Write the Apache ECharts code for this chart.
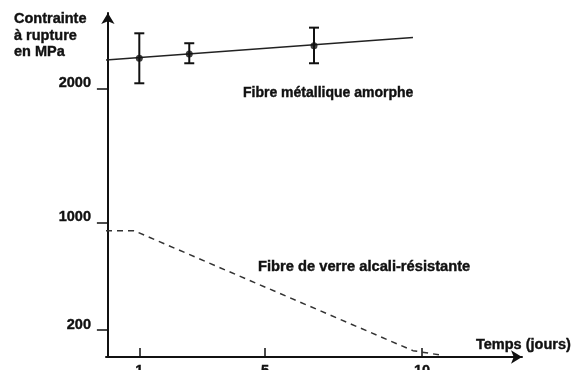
<!DOCTYPE html>
<html><head><meta charset="utf-8">
<script src="https://cdn.jsdelivr.net/npm/echarts@6/dist/echarts.min.js"></script>
<style>html,body{margin:0;padding:0;background:#fff}#c{width:574px;height:370px}</style>
</head><body><div id="c"></div>
<script>
// Data (time in days, strength in MPa)
const metalLineX = [-0.06, 9.71];
const metalLineY = [2211, 2377];
const metalPointX = [1, 2.59, 6.56];
const metalPointY = [2223, 2255, 2317];
const metalErrLow = [2037, 2186, 2186];
const metalErrHigh = [2409, 2335, 2451];
const glassX = [-0.06, 0.83, 9.71, 10.57];
const glassY = [940, 940, 47, 15];
const xTicks = [1, 5, 10];
const yTicks = [200, 1000, 2000];
const yAxisName = 'Contrainte\nà rupture\nen MPa';
const xAxisName = 'Temps (jours)';
const metalName = 'Fibre métallique amorphe';
const glassName = 'Fibre de verre alcali-résistante';

const FONT = '"Liberation Sans", Arial, sans-serif';
const INK = '#111';
const heavyLabel = {textBorderColor: INK, textBorderWidth: 0.4};
const heavyText = {stroke: INK, lineWidth: 0.4};

const chart = echarts.init(document.getElementById('c'), null, {renderer: 'canvas'});
const option = {
  animation: false,
  backgroundColor: '#fff',
  grid: {left: 106, right: 52, top: 13, bottom: 13, containLabel: false, outerBoundsMode: 'none'},
  xAxis: {
    type: 'value', min: -0.06, max: 13.18,
    splitLine: {show: false},
    axisLine: {show: true, lineStyle: {color: INK, width: 2}, symbol: ['none', 'arrow'], symbolSize: [10, 11]},
    axisTick: {show: true, inside: true, length: 9, customValues: xTicks, lineStyle: {color: INK, width: 1.5}},
    axisLabel: Object.assign({show: true, customValues: xTicks, margin: 6, color: INK, fontFamily: FONT, fontWeight: 'bold', fontSize: 14.5,
      formatter: v => String(v)}, heavyLabel)
  },
  yAxis: {
    type: 'value', min: 0, max: 2560,
    splitLine: {show: false},
    axisLine: {show: true, lineStyle: {color: INK, width: 2}, symbol: ['none', 'arrow'], symbolSize: [10, 11]},
    axisTick: {show: true, inside: false, length: 11, customValues: yTicks, lineStyle: {color: INK, width: 1.5}},
    axisLabel: Object.assign({show: true, customValues: yTicks, margin: 15, color: INK, fontFamily: FONT, fontWeight: 'bold', fontSize: 14.5,
      verticalAlign: 'bottom', lineHeight: 11, formatter: v => String(v)}, heavyLabel)
  },
  series: [
    {
      type: 'line', name: metalName,
      data: metalLineX.map((x, i) => [x, metalLineY[i]]),
      showSymbol: false, symbol: 'none',
      lineStyle: {color: '#222', width: 1.5}
    },
    {
      type: 'custom', name: 'errors',
      data: metalPointX.map((x, i) => [x, metalErrLow[i], metalErrHigh[i]]),
      renderItem: function (params, api) {
        const x = api.value(0);
        const lo = api.coord([x, api.value(1)]);
        const hi = api.coord([x, api.value(2)]);
        const w = 5;
        const st = {stroke: INK, lineWidth: 2};
        return {type: 'group', children: [
          {type: 'line', shape: {x1: lo[0], y1: lo[1], x2: hi[0], y2: hi[1]}, style: st},
          {type: 'line', shape: {x1: lo[0] - w, y1: lo[1], x2: lo[0] + w, y2: lo[1]}, style: st},
          {type: 'line', shape: {x1: hi[0] - w, y1: hi[1], x2: hi[0] + w, y2: hi[1]}, style: st}
        ]};
      },
      z: 3
    },
    {
      type: 'scatter', name: 'points',
      data: metalPointX.map((x, i) => [x, metalPointY[i]]),
      symbol: 'circle', symbolSize: 7,
      itemStyle: {color: INK}, z: 4
    },
    {
      type: 'line', name: glassName,
      data: glassX.map((x, i) => [x, glassY[i]]),
      showSymbol: false, symbol: 'none',
      lineStyle: {color: '#333', width: 1.5, type: [6, 5]}
    }
  ],
  graphic: [
    {type: 'text', x: 14, y: 10.6, style: Object.assign({text: yAxisName, font: 'bold 14.5px ' + FONT, fill: INK, lineHeight: 16.7, verticalAlign: 'top'}, heavyText)},
    {type: 'text', x: 476, y: 344.7, style: Object.assign({text: xAxisName, font: 'bold 14.5px ' + FONT, fill: INK, verticalAlign: 'middle'}, heavyText)},
    {type: 'text', x: 243, y: 92.7, style: Object.assign({text: metalName, font: 'bold 14px ' + FONT, fill: INK, verticalAlign: 'middle'}, heavyText)},
    {type: 'text', x: 258, y: 267.4, style: Object.assign({text: glassName, font: 'bold 14.7px ' + FONT, fill: INK, verticalAlign: 'middle'}, heavyText)}
  ]
};
chart.setOption(option);
</script>
</body></html>
